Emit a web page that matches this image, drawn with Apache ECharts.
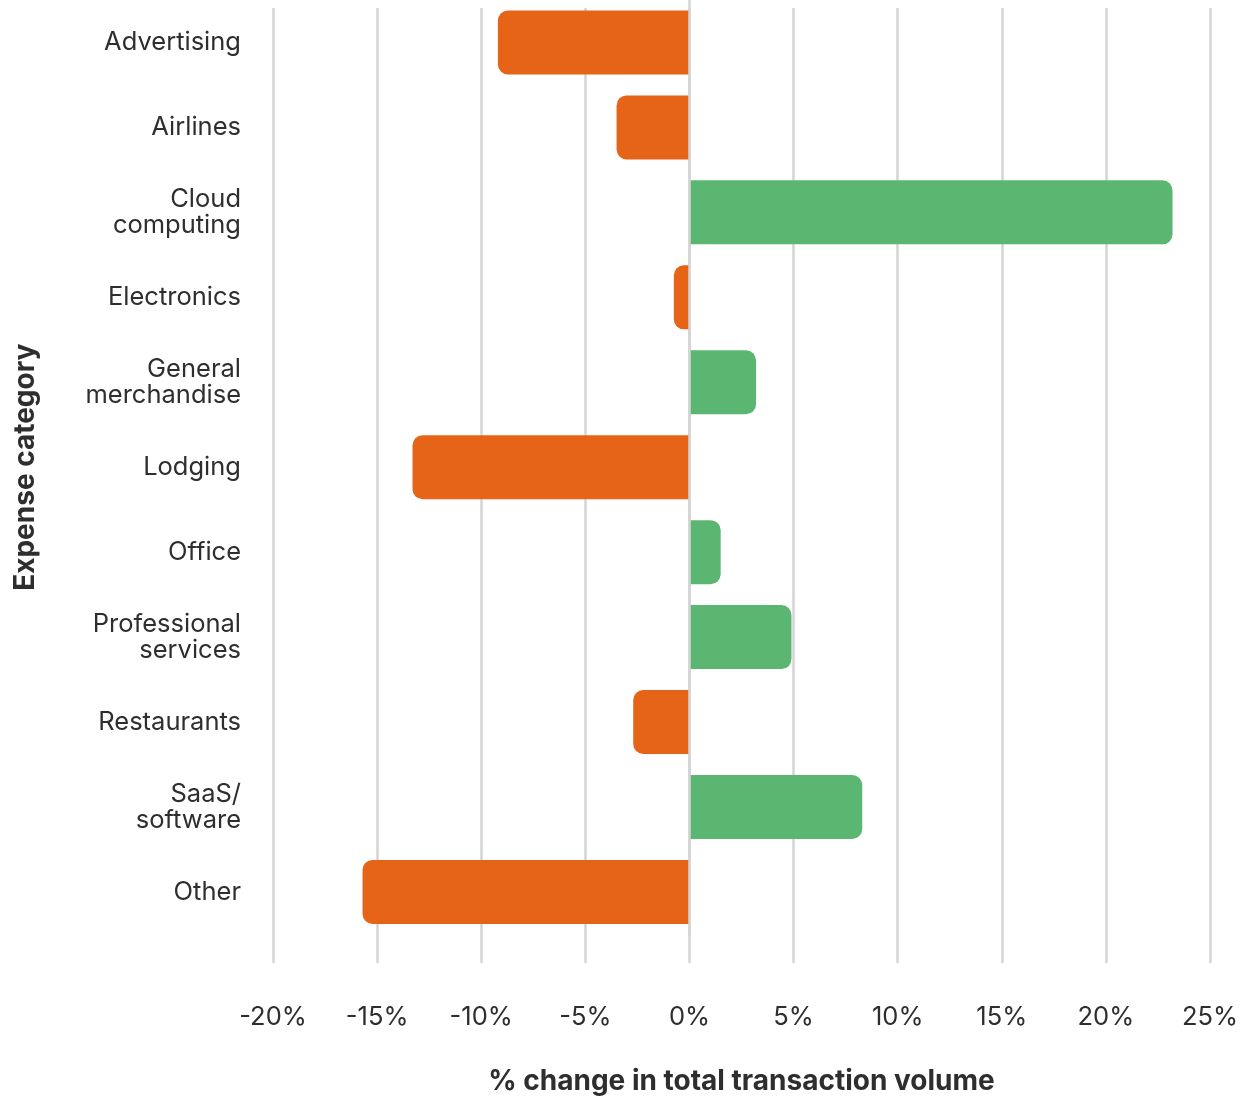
<!DOCTYPE html>
<html>
<head>
<meta charset="utf-8">
<title>Change in transaction volume by expense category</title>
<script src="https://cdn.jsdelivr.net/npm/echarts@6/dist/echarts.min.js"></script>
<style>
  html, body { margin: 0; padding: 0; background: #ffffff; }
  #chart { width: 1249px; height: 1101px; }
</style>
</head>
<body>
<div id="chart"></div>
<script>
// Expense categories, top to bottom
const categories = [
  'Advertising', 'Airlines', 'Cloud\ncomputing', 'Electronics',
  'General\nmerchandise', 'Lodging', 'Office', 'Professional\nservices',
  'Restaurants', 'SaaS/\nsoftware', 'Other'
];
// % change in total transaction volume
const changePct = [-9.2, -3.5, 23.2, -0.75, 3.2, -13.3, 1.5, 4.9, -2.7, 8.3, -15.7];
// x-axis ticks
const xMin = -20, xMax = 25, xStep = 5;

const ORANGE = '#e66417';
const GREEN = '#5bb672';
const GRID = '#d4d4d4';
const INK = '#2e2e2e';
const FONT = 'Inter, "Noto Sans", sans-serif';

const chart = echarts.init(document.getElementById('chart'), null, { renderer: 'canvas' });

const barData = changePct.map(v => ({
  value: v,
  itemStyle: {
    color: v < 0 ? ORANGE : GREEN,
    borderRadius: v < 0 ? [10, 0, 0, 10] : [0, 10, 10, 0]
  }
}));

chart.setOption({
  animation: false,
  backgroundColor: '#ffffff',
  grid: [
    // vertical guide lines and tick labels
    { left: 273, right: 39, top: 8, bottom: 128, containLabel: false },
    // bars and category labels
    { left: 273, right: 39, top: -3.6, height: 938, containLabel: false }
  ],
  xAxis: [
    {
      gridIndex: 0, type: 'value', min: xMin, max: xMax, interval: xStep,
      axisLine: { show: false }, axisTick: { show: false },
      splitLine: { show: true, lineStyle: { color: GRID, width: 2.5 } },
      axisLabel: {
        formatter: '{value}%', margin: 41,
        color: INK, fontSize: 25.5, fontFamily: FONT
      },
      name: '% change in total transaction volume',
      nameLocation: 'middle', nameGap: 105,
      nameTextStyle: { color: INK, fontSize: 28, fontWeight: 'bold', fontFamily: FONT }
    },
    {
      gridIndex: 1, type: 'value', min: xMin, max: xMax, interval: xStep,
      show: false
    }
  ],
  yAxis: [
    {
      gridIndex: 0, type: 'value', show: false
    },
    {
      gridIndex: 1, type: 'category', data: categories, inverse: true, z: 5,
      axisLine: { show: true, onZero: true, lineStyle: { color: GRID, width: 2.5 } },
      axisTick: { show: false },
      axisLabel: {
        margin: 32, color: INK, fontSize: 25.5, lineHeight: 26,
        fontFamily: FONT, align: 'right'
      },
      name: 'Expense category',
      nameLocation: 'middle', nameGap: 233,
      nameTextStyle: { color: INK, fontSize: 28, fontWeight: 'bold', fontFamily: FONT }
    }
  ],
  series: [
    {
      type: 'bar', xAxisIndex: 1, yAxisIndex: 1,
      data: barData, barWidth: 64
    }
  ]
});
</script>
</body>
</html>
